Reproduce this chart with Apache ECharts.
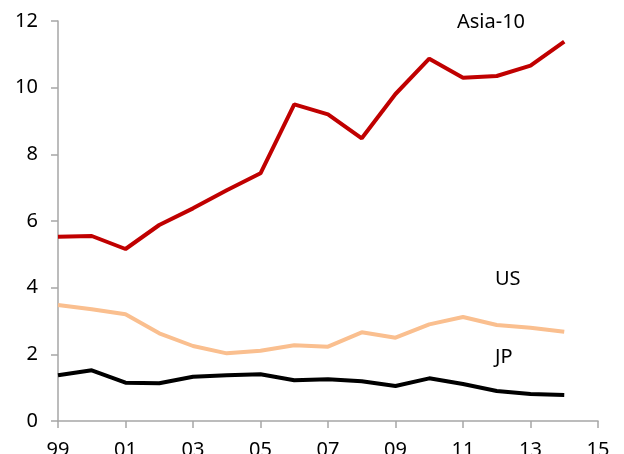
<!DOCTYPE html>
<html>
<head>
<meta charset="utf-8">
<script src="https://cdn.jsdelivr.net/npm/echarts@6/dist/echarts.min.js"></script>
<style>
  html, body { margin: 0; padding: 0; background: #fff; }
  #main { width: 624px; height: 454px; }
</style>
</head>
<body>
<div id="main"></div>
<script>
// years on the x axis (data ends at 2014, axis runs to 2015)
var years = ["1999","2000","2001","2002","2003","2004","2005","2006","2007","2008","2009","2010","2011","2012","2013","2014","2015"];
var asia10 = [5.53, 5.55, 5.16, 5.88, 6.38, 6.92, 7.43, 9.50, 9.20, 8.48, 9.81, 10.87, 10.30, 10.35, 10.66, 11.38];
var us = [3.48, 3.35, 3.20, 2.63, 2.25, 2.03, 2.11, 2.27, 2.23, 2.66, 2.50, 2.90, 3.12, 2.88, 2.80, 2.68];
var jp = [1.37, 1.52, 1.15, 1.13, 1.33, 1.37, 1.40, 1.22, 1.25, 1.19, 1.05, 1.28, 1.11, 0.90, 0.81, 0.78];

var font = "Noto Sans";
var axisGray = "#a6a6a6";

var myChart = echarts.init(document.getElementById("main"));
var option = {
  animation: false,
  textStyle: { fontFamily: font },
  grid: { left: 58, right: 26, top: 21, bottom: 33, containLabel: false, outerBoundsMode: "none" },
  xAxis: {
    type: "category",
    data: years,
    boundaryGap: false,
    axisLine: { lineStyle: { color: axisGray, width: 1.5 } },
    axisTick: { interval: 1, length: 7, lineStyle: { color: axisGray, width: 1.5 } },
    axisLabel: {
      interval: 1,
      margin: 19,
      color: "#000",
      fontSize: 20,
      fontFamily: font,
      formatter: function (v) { return v.slice(2); }
    },
    splitLine: { show: false }
  },
  yAxis: {
    type: "value",
    min: 0,
    max: 12,
    interval: 2,
    axisLine: { show: true, lineStyle: { color: axisGray, width: 1.5 } },
    axisTick: { show: true, length: 7, lineStyle: { color: axisGray, width: 1.5 } },
    axisLabel: { margin: 20, color: "#000", fontSize: 20, fontFamily: font },
    splitLine: { show: false }
  },
  series: [
    {
      name: "Asia-10",
      type: "line",
      data: asia10,
      showSymbol: false,
      lineStyle: { color: "#c00000", width: 4 },
      z: 3
    },
    {
      name: "US",
      type: "line",
      data: us,
      showSymbol: false,
      lineStyle: { color: "#fabf8f", width: 4 },
      z: 2
    },
    {
      name: "JP",
      type: "line",
      data: jp,
      showSymbol: false,
      lineStyle: { color: "#000000", width: 4 },
      z: 2
    }
  ],
  graphic: [
    { type: "text", left: 457, top: 12, style: { text: "Asia-10", fontSize: 20, fontFamily: font, fill: "#000" } },
    { type: "text", left: 495, top: 269, style: { text: "US", fontSize: 20, fontFamily: font, fill: "#000" } },
    { type: "text", left: 495, top: 347, style: { text: "JP", fontSize: 20, fontFamily: font, fill: "#000" } }
  ]
};
myChart.setOption(option);
</script>
</body>
</html>
